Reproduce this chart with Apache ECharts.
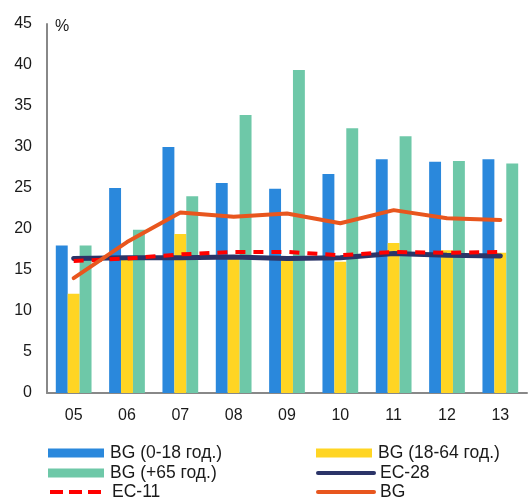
<!DOCTYPE html>
<html>
<head>
<meta charset="utf-8">
<script src="https://cdn.jsdelivr.net/npm/echarts@6/dist/echarts.min.js"></script>
<style>
  html, body { margin: 0; padding: 0; background: #fff; }
  #chart { width: 532px; height: 497px; }
</style>
</head>
<body>
<div id="chart"></div>
<script>
const years = ['05', '06', '07', '08', '09', '10', '11', '12', '13'];
const bgChildren = [18.0, 25.0, 30.0, 25.6, 24.9, 26.7, 28.5, 28.2, 28.5];
const bgWorking = [12.1, 16.5, 19.4, 16.8, 16.3, 16.0, 18.3, 17.4, 17.1];
const bgElderly = [18.0, 19.9, 24.0, 33.9, 39.4, 32.3, 31.3, 28.3, 28.0];
const ec28 = [16.4, 16.5, 16.5, 16.6, 16.4, 16.5, 17.0, 16.8, 16.7];
const ec11 = [16.1, 16.4, 16.9, 17.2, 17.2, 16.8, 17.2, 17.1, 17.2];
const bg = [14.0, 18.4, 22.0, 21.5, 21.9, 20.7, 22.3, 21.3, 21.1];
const yTicks = { min: 0, max: 45, step: 5 };

const font = 'Liberation Sans, Arial, sans-serif';
const textColor = '#1a1a1a';

function legendItem(name, left, top, extra) {
    return Object.assign({
        data: [name],
        left: left,
        top: top,
        itemWidth: 56,
        itemHeight: 9,
        itemGap: 0,
        padding: 0,
        selectedMode: false,
        textStyle: { fontFamily: font, fontSize: 17.5, color: textColor, padding: [0, 0, 0, 1] }
    }, extra || {});
}

// line legends: hide the marker circle, keep only the line
const noMarker = { opacity: 0 };

const chart = echarts.init(document.getElementById('chart'));
chart.setOption({
    animation: false,
    grid: { left: 47, right: 5, top: 24, bottom: 104 },
    graphic: [{
        type: 'text',
        left: 55,
        top: 19,
        style: { text: '%', fontFamily: font, fontSize: 16, fill: textColor }
    }],
    legend: [
        legendItem('BG (0-18 год.)', 48, 444, { icon: 'rect' }),
        legendItem('BG (18-64 год.)', 316, 444, { icon: 'rect' }),
        legendItem('BG (+65 год.)', 48, 464, { icon: 'rect' }),
        legendItem('EC-28', 316, 464, { itemStyle: noMarker, lineStyle: { width: 4, cap: 'round' } }),
        legendItem('EC-11', 48, 483, { itemStyle: noMarker, lineStyle: { width: 4, type: [13, 6] } }),
        legendItem('BG', 316, 483, { itemStyle: noMarker, lineStyle: { width: 4, cap: 'round' } })
    ],
    xAxis: {
        type: 'category',
        data: years,
        axisLine: { lineStyle: { color: '#888', width: 2 } },
        axisTick: { show: false },
        axisLabel: { fontFamily: font, fontSize: 16, color: textColor, margin: 15 }
    },
    yAxis: {
        type: 'value',
        min: yTicks.min,
        max: yTicks.max,
        interval: yTicks.step,
        axisLine: { show: true, lineStyle: { color: '#888', width: 2 } },
        axisTick: { show: false },
        splitLine: { show: false },
        axisLabel: { fontFamily: font, fontSize: 16, color: textColor, margin: 15 }
    },
    series: [
        {
            name: 'BG (0-18 год.)', type: 'bar', data: bgChildren,
            barGap: 0, barCategoryGap: '33%',
            itemStyle: { color: '#2a88dc' }
        },
        {
            name: 'BG (18-64 год.)', type: 'bar', data: bgWorking,
            barGap: 0, barCategoryGap: '33%',
            itemStyle: { color: '#ffd523' }
        },
        {
            name: 'BG (+65 год.)', type: 'bar', data: bgElderly,
            barGap: 0, barCategoryGap: '33%',
            itemStyle: { color: '#6ec8a8' }
        },
        {
            name: 'EC-28', type: 'line', data: ec28, symbol: 'none', z: 3,
            lineStyle: { color: '#2b3468', width: 5, cap: 'round' },
            itemStyle: { color: '#2b3468' }
        },
        {
            name: 'EC-11', type: 'line', data: ec11, symbol: 'none', z: 4,
            lineStyle: { color: '#ff0000', width: 4, type: [10, 8] },
            itemStyle: { color: '#ff0000' }
        },
        {
            name: 'BG', type: 'line', data: bg, symbol: 'none', z: 5,
            lineStyle: { color: '#e8561e', width: 4, cap: 'round' },
            itemStyle: { color: '#e8561e' }
        }
    ]
});
</script>
</body>
</html>
